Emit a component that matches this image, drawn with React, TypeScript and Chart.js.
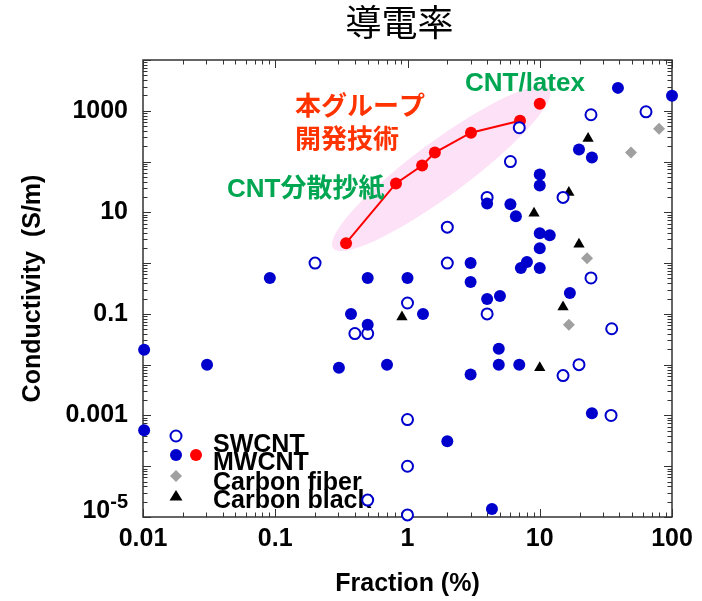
import React, { useEffect, useRef } from 'react';
import { Chart, registerables } from 'chart.js';

Chart.register(...registerables);

const TITLE = '導電率';
const X_TITLE = 'Fraction (%)';
const Y_TITLE = 'Conductivity  (S/m)';

const X_MIN = 0.01;
const X_MAX = 100;
const Y_MIN = 1e-5;
const Y_MAX = 1e4;

const xTickValues = [0.01, 0.1, 1, 10, 100];
const xTickLabels = ['0.01', '0.1', '1', '10', '100'];
const yTickValues = [0.001, 0.1, 10, 1000];
const yTickLabels = ['0.001', '0.1', '10', '1000'];
const yBottomValue = 1e-5;
const yBottomBase = '10';
const yBottomExp = '-5';

// SWCNT (open circles)
const swcntX = [0.2, 7, 24.4, 63.6, 6, 4, 15, 2, 2, 24.4, 1, 4, 35, 0.4, 0.5, 15, 19.8, 34.6, 1, 1, 1, 0.5];
const swcntY = [1.0, 464, 835, 955, 100, 19.7, 19.7, 5.1, 1.0, 0.51, 0.164, 0.1, 0.051, 0.041, 0.041, 0.0061, 0.01, 0.001, 8.3e-4, 1e-4, 1.1e-5, 2.15e-5];

// MWCNT (filled blue circles)
const mwcntX = [0.091, 0.5, 1, 39, 100, 19.8, 24.8, 10, 10, 4, 6, 6.6, 10, 11.9, 10, 3, 8, 7.2, 10, 3, 16.9, 4, 5, 1.31, 0.374, 0.5, 4.9, 4.9, 7, 3, 24.8, 2, 4.35, 0.0102, 0.0102, 0.0305, 0.303, 0.7];
const mwcntY = [0.51, 0.51, 0.51, 2825, 1968, 172, 120, 55.6, 33.8, 15, 14.4, 8.35, 3.87, 3.54, 1.97, 1.0, 1.05, 0.8, 0.8, 0.424, 0.258, 0.197, 0.225, 0.1, 0.1, 0.061, 0.0206, 0.01, 0.01, 0.0064, 0.0011, 3.1e-4, 1.44e-5, 0.0197, 5.1e-4, 0.01, 0.0087, 0.01];

// Our group's MWCNT (red), last point = CNT/latex
const ourX = [0.343, 0.818, 1.29, 1.61, 3.02, 7.09, 10.0];
const ourY = [2.47, 37.1, 83.5, 150, 370, 637, 1372];

// Carbon fiber (grey diamonds)
const fiberX = [79.8, 49, 22.8, 16.6];
const fiberY = [444, 150, 1.25, 0.061];

// Carbon black (black triangles)
const blackX = [23.2, 16.6, 9.05, 19.8, 15, 0.908, 10];
const blackY = [283, 24.7, 9.56, 2.36, 0.137, 0.0873, 0.0087];

const legendLabels = ['SWCNT', 'MWCNT', 'Carbon fiber', 'Carbon black'];

// highlight ellipse ends (data coords)
const ellipseFrom = [0.274, 1.97];
const ellipseTo = [11.8, 2700];

// annotations: text, left x, middle y (data coords)
const noteTexts = ['本グループ', '開発技術', 'CNT分散抄紙', 'CNT/latex'];
const noteX = [0.141, 0.141, 0.0432, 2.72];
const noteY = [1145, 258, 28.3, 3383];
const noteColors = ['#ff3300', '#ff3300', '#00a651', '#00a651'];

const BLUE = '#0000cc';
const RED = '#ff0000';
const GREY = '#a0a0a0';
const FONT = '"Liberation Sans", Arial, "Noto Sans CJK JP", sans-serif';

const zip = (xs: number[], ys: number[]) => xs.map((x, i) => ({ x, y: ys[i] }));
const matchLabel = (value: number, vals: number[], labels: string[]) => {
  const i = vals.findIndex((v) => Math.abs(Math.log10(v) - Math.log10(value)) < 1e-6);
  return i >= 0 ? labels[i] : '';
};

const decorPlugin = {
  id: 'decor',
  beforeDatasetsDraw(chart: any) {
    const { ctx, chartArea: a, scales } = chart;
    const xs = scales.x;
    const ys = scales.y;
    ctx.save();
    // title
    ctx.fillStyle = '#000';
    ctx.font = '36px "Noto Sans CJK JP", sans-serif';
    ctx.textAlign = 'center';
    ctx.textBaseline = 'middle';
    ctx.fillText(TITLE, (a.left + a.right) / 2 - 8, a.top - 38);

    // ellipse
    const x1 = xs.getPixelForValue(ellipseFrom[0]);
    const y1 = ys.getPixelForValue(ellipseFrom[1]);
    const x2 = xs.getPixelForValue(ellipseTo[0]);
    const y2 = ys.getPixelForValue(ellipseTo[1]);
    ctx.fillStyle = '#fde1f7';
    ctx.beginPath();
    ctx.ellipse((x1 + x2) / 2, (y1 + y2) / 2, Math.hypot(x2 - x1, y2 - y1) / 2, 27, Math.atan2(y2 - y1, x2 - x1), 0, Math.PI * 2);
    ctx.fill();

    // frame
    ctx.strokeStyle = '#333';
    ctx.lineWidth = 1.5;
    ctx.strokeRect(a.left, a.top, a.right - a.left, a.bottom - a.top);

    // inward ticks
    ctx.lineWidth = 1;
    ctx.beginPath();
    for (let e = Math.log10(X_MIN); e <= Math.log10(X_MAX); e++) {
      for (let m = 1; m <= 9; m++) {
        const v = m * Math.pow(10, e);
        if (v > X_MAX * 1.0001) break;
        const px = Math.round(xs.getPixelForValue(v)) + 0.5;
        const L = m === 1 ? 8 : 4.5;
        ctx.moveTo(px, a.bottom);
        ctx.lineTo(px, a.bottom - L);
        ctx.moveTo(px, a.top);
        ctx.lineTo(px, a.top + L);
      }
    }
    for (let e = Math.log10(Y_MIN); e <= Math.log10(Y_MAX); e++) {
      for (let m = 1; m <= 9; m++) {
        const v = m * Math.pow(10, e);
        if (v > Y_MAX * 1.0001) break;
        const py = Math.round(ys.getPixelForValue(v)) + 0.5;
        const L = m === 1 ? 8 : 4.5;
        ctx.moveTo(a.left, py);
        ctx.lineTo(a.left + L, py);
        ctx.moveTo(a.right, py);
        ctx.lineTo(a.right - L, py);
      }
    }
    ctx.stroke();

    // legend
    const lx = a.left + 33;
    const rows = [a.bottom - 81, a.bottom - 62, a.bottom - 41, a.bottom - 21];
    const base = [a.bottom - 65, a.bottom - 47, a.bottom - 27.5, a.bottom - 9];
    ctx.beginPath();
    ctx.arc(lx, rows[0], 5.5, 0, Math.PI * 2);
    ctx.fillStyle = '#fff';
    ctx.fill();
    ctx.strokeStyle = BLUE;
    ctx.lineWidth = 2;
    ctx.stroke();
    ctx.beginPath();
    ctx.arc(lx, rows[1], 6, 0, Math.PI * 2);
    ctx.fillStyle = BLUE;
    ctx.fill();
    ctx.beginPath();
    ctx.arc(lx + 20, rows[1], 6, 0, Math.PI * 2);
    ctx.fillStyle = RED;
    ctx.fill();
    ctx.beginPath();
    ctx.moveTo(lx, rows[2] - 6);
    ctx.lineTo(lx + 6, rows[2]);
    ctx.lineTo(lx, rows[2] + 6);
    ctx.lineTo(lx - 6, rows[2]);
    ctx.closePath();
    ctx.fillStyle = GREY;
    ctx.fill();
    ctx.beginPath();
    ctx.moveTo(lx, rows[3] - 6);
    ctx.lineTo(lx + 6.5, rows[3] + 4.5);
    ctx.lineTo(lx - 6.5, rows[3] + 4.5);
    ctx.closePath();
    ctx.fillStyle = '#000';
    ctx.fill();
    ctx.fillStyle = '#000';
    ctx.font = `bold 25px ${FONT}`;
    ctx.textAlign = 'left';
    ctx.textBaseline = 'alphabetic';
    legendLabels.forEach((t, i) => ctx.fillText(t, a.left + 70, base[i]));

    // 10-5 label
    const ty = ys.getPixelForValue(yBottomValue);
    ctx.font = `bold 25px ${FONT}`;
    const wb = ctx.measureText(yBottomBase).width;
    ctx.font = `bold 20px ${FONT}`;
    const we = ctx.measureText(yBottomExp).width;
    const right = a.left - 15;
    ctx.font = `bold 25px ${FONT}`;
    ctx.fillText(yBottomBase, right - we - wb, ty + 1);
    ctx.font = `bold 20px ${FONT}`;
    ctx.fillText(yBottomExp, right - we, ty - 9);
    ctx.restore();
  },
  afterDatasetsDraw(chart: any) {
    const { ctx, scales } = chart;
    ctx.save();
    ctx.font = `bold 26px ${FONT}`;
    ctx.textAlign = 'left';
    ctx.textBaseline = 'middle';
    noteTexts.forEach((t, i) => {
      ctx.fillStyle = noteColors[i];
      ctx.fillText(t, scales.x.getPixelForValue(noteX[i]), scales.y.getPixelForValue(noteY[i]));
    });
    ctx.restore();
  },
};

export default function App() {
  const ref = useRef<HTMLCanvasElement | null>(null);
  useEffect(() => {
    if (!ref.current) return;
    const chart = new Chart(ref.current, {
      type: 'scatter',
      data: {
        datasets: [
          {
            label: 'MWCNT',
            data: zip(mwcntX, mwcntY),
            pointStyle: 'circle',
            pointRadius: 6,
            pointBackgroundColor: BLUE,
            pointBorderWidth: 0,
            showLine: false,
            clip: false,
          },
          {
            label: 'SWCNT',
            data: zip(swcntX, swcntY),
            pointStyle: 'circle',
            pointRadius: 5.5,
            pointBackgroundColor: '#fff',
            pointBorderColor: BLUE,
            pointBorderWidth: 2,
            showLine: false,
            clip: false,
          },
          {
            label: 'Carbon fiber',
            data: zip(fiberX, fiberY),
            pointStyle: 'rectRot',
            pointRadius: 6,
            pointBackgroundColor: GREY,
            pointBorderWidth: 0,
            showLine: false,
            clip: false,
          },
          {
            label: 'Carbon black',
            data: zip(blackX, blackY),
            pointStyle: 'triangle',
            pointRadius: 6.5,
            pointBackgroundColor: '#000',
            pointBorderWidth: 0,
            showLine: false,
            clip: false,
          },
          {
            label: 'MWCNT (this group)',
            data: zip(ourX, ourY),
            pointStyle: 'circle',
            pointRadius: 6,
            pointBackgroundColor: RED,
            pointBorderWidth: 0,
            showLine: true,
            borderColor: RED,
            borderWidth: 2,
            segment: {
              borderColor: (c: any) => (c.p1DataIndex === ourX.length - 1 ? 'rgba(0,0,0,0)' : RED),
            },
            clip: false,
          },
        ],
      },
      options: {
        animation: false,
        responsive: false,
        events: [],
        layout: { padding: { left: 0, right: 30, top: 60, bottom: 0 } },
        plugins: {
          legend: { display: false },
          tooltip: { enabled: false },
          title: { display: false },
        },
        scales: {
          x: {
            type: 'logarithmic',
            min: X_MIN,
            max: X_MAX,
            grid: { display: false, drawTicks: false },
            border: { display: false },
            ticks: {
              autoSkip: false,
              maxRotation: 0,
              minRotation: 0,
              color: '#000',
              padding: 7,
              font: { family: FONT, size: 25, weight: 'bold' },
              callback: (v: any) => matchLabel(Number(v), xTickValues, xTickLabels),
            },
            title: {
              display: true,
              text: X_TITLE,
              color: '#000',
              font: { family: FONT, size: 25, weight: 'bold' },
              padding: { top: 0, bottom: 2 },
            },
            afterFit: (s: any) => {
              s.height = 84;
            },
          },
          y: {
            type: 'logarithmic',
            min: Y_MIN,
            max: Y_MAX,
            grid: { display: false, drawTicks: false },
            border: { display: false },
            ticks: {
              autoSkip: false,
              color: '#000',
              padding: 15,
              font: { family: FONT, size: 25, weight: 'bold' },
              callback: (v: any) => matchLabel(Number(v), yTickValues, yTickLabels),
            },
            title: {
              display: true,
              text: Y_TITLE,
              color: '#000',
              font: { family: FONT, size: 25, weight: 'bold' },
              padding: { top: 18, bottom: 0 },
            },
            afterFit: (s: any) => {
              s.width = 143;
            },
          },
        },
      },
      plugins: [decorPlugin],
    });
    return () => chart.destroy();
  }, []);
  return (
    <canvas
      ref={ref}
      width={702}
      height={601}
      style={{ position: 'fixed', left: 0, top: 0, width: 702, height: 601 }}
    />
  );
}
